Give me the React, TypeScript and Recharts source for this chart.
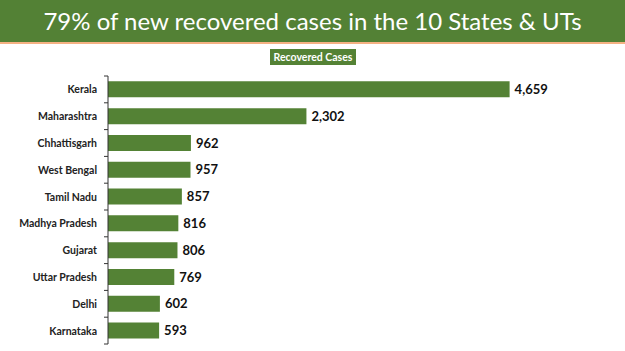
import React from "react";
import { BarChart, Bar, XAxis, YAxis, LabelList } from "recharts";

const states = ["Kerala", "Maharashtra", "Chhattisgarh", "West Bengal", "Tamil Nadu", "Madhya Pradesh", "Gujarat", "Uttar Pradesh", "Delhi", "Karnataka"];
const recovered = [4659, 2302, 962, 957, 857, 816, 806, 769, 602, 593];
const title = "79% of new recovered cases in the 10 States & UTs";
const seriesName = "Recovered Cases";

const data = states.map((s, i) => ({ state: s, value: recovered[i] }));

const GREEN = "#548235";
const TOP = 76;
const BOTTOM = 7;
const H = 351;
const BAND = (H - TOP - BOTTOM) / states.length;

const CatTick = (props: any) => {
  const { x, y, payload, index } = props;
  const ax = x;
  return (
    <g>
      <line x1={ax + 10} x2={ax + 14} y1={y - BAND / 2} y2={y - BAND / 2} stroke="#333" strokeWidth={1} />
      {index === states.length - 1 && (
        <line x1={ax + 10} x2={ax + 14} y1={y + BAND / 2} y2={y + BAND / 2} stroke="#333" strokeWidth={1} />
      )}
      <text x={ax + 3} y={y} dy={4} textAnchor="end" fontSize={10.5} fontWeight={700} fill="#222" fontFamily="Lato, sans-serif">
        {payload.value}
      </text>
    </g>
  );
};

export default function App() {
  return (
    <div style={{ position: "absolute", left: 0, top: 0, width: 625, height: 351, background: "#fff", overflow: "hidden" }}>
      <div
        style={{
          position: "absolute", left: 0, top: 0, width: 625, height: 42, background: "#538135",
          borderBottom: "2px solid #F4B183", color: "#fff", fontFamily: "Lato, sans-serif",
          fontSize: 24, lineHeight: "42px", textAlign: "center", whiteSpace: "nowrap",
        }}
      >
        {title}
      </div>
      <div
        style={{
          position: "absolute", left: 270, top: 49, width: 86, height: 16, background: GREEN,
          color: "#fff", fontFamily: "Lato, sans-serif", fontWeight: 700, fontSize: 10.5,
          lineHeight: "16px", textAlign: "center", whiteSpace: "nowrap",
        }}
      >
        {seriesName}
      </div>
      <div style={{ position: "absolute", left: 0, top: 0 }}>
        <BarChart
          width={625}
          height={351}
          data={data}
          layout="vertical"
          margin={{ top: TOP, bottom: BOTTOM, left: 0, right: 86 }}
          barCategoryGap="20%"
        >
          <XAxis type="number" domain={[0, 5000]} hide />
          <YAxis
            type="category"
            dataKey="state"
            width={108}
            axisLine={{ stroke: "#333" }}
            tickLine={false}
            tick={<CatTick />}
            interval={0}
            tickMargin={8}
          />
          <Bar dataKey="value" fill={GREEN} isAnimationActive={false}>
            <LabelList
              dataKey="value"
              position="right"
              offset={5}
              formatter={(v: any) => Number(v).toLocaleString("en-US")}
              style={{ fontSize: 13, fontWeight: 700, fill: "#111", fontFamily: "Lato, sans-serif" }}
            />
          </Bar>
        </BarChart>
      </div>
    </div>
  );
}
